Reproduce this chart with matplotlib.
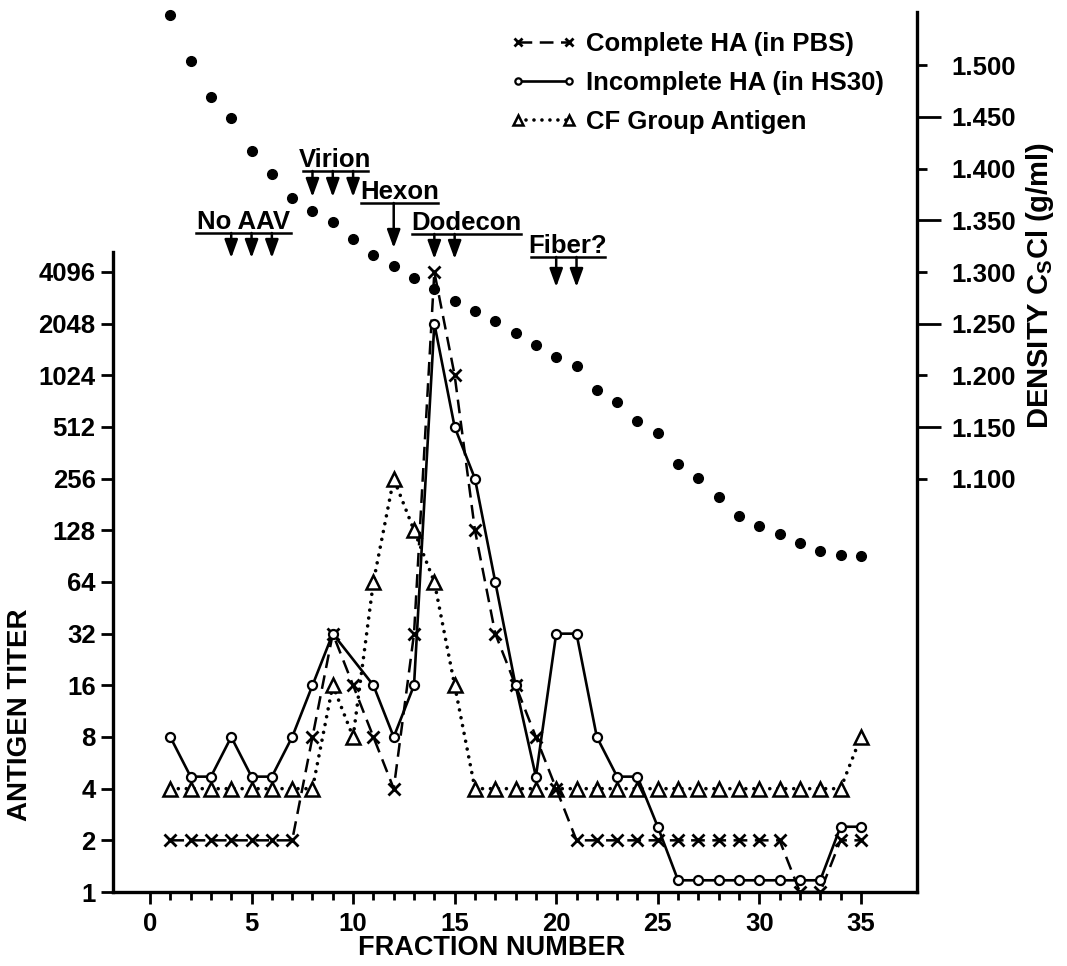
import matplotlib
matplotlib.use('Agg')
import matplotlib.pyplot as plt
import matplotlib.transforms as mtransforms
from matplotlib.ticker import FixedLocator

plt.rcParams['font.family'] = ['Liberation Sans', 'DejaVu Sans']
plt.rcParams['font.weight'] = 'bold'
plt.rcParams['mathtext.fontset'] = 'custom'
plt.rcParams['mathtext.rm'] = 'Liberation Sans:bold'
plt.rcParams['mathtext.bf'] = 'Liberation Sans:bold'

# data
fractions = list(range(1, 36))
complete_ha = [2, 2, 2, 2, 2, 2, 2, 8, 32, 16, 8, 4, 32, 4096, 1024, 128, 32, 16,
               8, 4, 2, 2, 2, 2, 2, 2, 2, 2, 2, 2, 2, 1, 1, 2, 2]
incomplete_frac = [1, 2, 3, 4, 5, 6, 7, 8, 9, 11, 12, 13, 14, 15, 16, 17, 18, 19,
                   20, 21, 22, 23, 24, 25, 26, 27, 28, 29, 30, 31, 32, 33, 34, 35]
incomplete_ha = [8, 4.7, 4.7, 8, 4.7, 4.7, 8, 16, 32, 16, 8, 16, 2048, 512, 256, 64, 16, 4.7,
                 32, 32, 8, 4.7, 4.7, 2.4, 1.17, 1.17, 1.17, 1.17, 1.17, 1.17, 1.17, 1.17, 2.4, 2.4]
cf_antigen = [4, 4, 4, 4, 4, 4, 4, 4, 16, 8, 64, 256, 128, 64, 16, 4, 4, 4,
              4, 4, 4, 4, 4, 4, 4, 4, 4, 4, 4, 4, 4, 4, 4, 4, 8]
density = [1.549, 1.504, 1.469, 1.449, 1.417, 1.395, 1.372, 1.359, 1.348, 1.332,
           1.316, 1.306, 1.294, 1.284, 1.272, 1.262, 1.253, 1.241, 1.229, 1.218,
           1.209, 1.186, 1.174, 1.156, 1.144, 1.114, 1.101, 1.082, 1.064, 1.054,
           1.047, 1.038, 1.030, 1.026, 1.025]
titer_ticks = [1, 2, 4, 8, 16, 32, 64, 128, 256, 512, 1024, 2048, 4096]
density_major = [1.1, 1.2, 1.3, 1.4, 1.5]
density_minor = [1.15, 1.25, 1.35, 1.45]

W, H = 1067, 966
fig = plt.figure(figsize=(W / 100, H / 100), dpi=100)
ax = fig.add_axes([113 / W, (H - 892) / H, (917 - 113) / W, (892 - 12) / H])

ax.plot(fractions, complete_ha, color='k', lw=1.8, ls=(0, (5.5, 3)), marker='x',
        ms=8, mew=2, label='Complete HA (in PBS)', zorder=3)
ax.plot(incomplete_frac, incomplete_ha, color='k', lw=1.9, ls='-', marker='o',
        ms=6.5, mew=1.6, mfc='white', label='Incomplete HA (in HS30)', zorder=4)
ax.plot(fractions, cf_antigen, color='k', lw=2.6, ls=(0, (0.01, 2.2)),
        dash_capstyle='round', marker='^', ms=10, mew=1.8, mfc='white',
        label='CF Group Antigen', zorder=2)

ax.set_yscale('log', base=2)
ax.set_ylim(1, 2 ** ((892 - 12) / 51.67))
ax.set_xlim(-37 / 20.31, 767 / 20.31)
ax.yaxis.set_major_locator(FixedLocator(titer_ticks))
ax.yaxis.set_minor_locator(FixedLocator([]))
ax.set_yticklabels([str(t) for t in titer_ticks])
ax.set_xticks(range(0, 36, 5))
ax.set_xticks(range(0, 36), minor=True)
ax.tick_params(axis='both', which='major', labelsize=18.5, width=2, length=8.5, direction='out')
ax.tick_params(axis='x', which='major', pad=6)
ax.tick_params(axis='x', which='minor', width=2, length=6, direction='out')
ax.tick_params(axis='y', which='major', pad=4)

for s in ['top', 'right']:
    ax.spines[s].set_visible(False)
for s in ['left', 'bottom']:
    ax.spines[s].set_linewidth(2.4)
ax.spines['left'].set_bounds(1, 2 ** ((892 - 252) / 51.67))

ax2 = ax.twinx()
ax2.plot(fractions, density, ls='none', marker='o', ms=7, color='k', clip_on=False)
ax2.set_ylim(1.3 - 620 / 1034, 1.3 + 260 / 1034)
ax2.set_yticks(density_major)
ax2.set_yticklabels(['%.3f' % d for d in density_major])
ax2.set_yticks(density_minor, minor=True)
ax2.set_yticklabels(['%.3f' % d for d in density_minor], minor=True)
ax2.tick_params(axis='y', which='major', labelsize=18.5, width=2, length=7, pad=18)
ax2.tick_params(axis='y', which='minor', labelsize=18.5, width=2, length=17, pad=8)
for s in ['top', 'left', 'bottom']:
    ax2.spines[s].set_visible(False)
ax2.spines['right'].set_linewidth(2.4)

# band annotations with arrows
blend = mtransforms.blended_transform_factory(ax.transData, ax.transAxes)
def fy(py):
    return (892 - py) / 880

bands = [
    ('No AAV', 2.26, 6.94, 233, [4, 5, 6], 258),
    ('Virion', 7.53, 10.73, 171, [8, 9, 10], 197),
    ('Hexon', 10.39, 14.18, 203, [12], 248),
    ('Dodecon', 12.9, 18.27, 234, [14, 15], 259),
    ('Fiber?', 18.76, 22.4, 257, [20, 21], 287),
]
for name, x0, x1, uy, arrows, tip in bands:
    ax.plot([x0, x1], [fy(uy), fy(uy)], color='k', lw=1.8, transform=blend, clip_on=False)
    ax.text((x0 + x1) / 2, fy(uy - 4), name, transform=blend, ha='center', va='baseline',
            fontsize=18.5)
    for f in arrows:
        ax.annotate('', xy=(f, fy(tip)), xytext=(f, fy(uy)), xycoords=blend, textcoords=blend,
                    arrowprops=dict(arrowstyle='-|>,head_length=0.55,head_width=0.2',
                                    mutation_scale=20, lw=1.8, color='k',
                                    shrinkA=0, shrinkB=0))

leg = ax.legend(loc='upper left', bbox_to_anchor=(510 / W, 1 - 32 / H),
                bbox_transform=fig.transFigure, frameon=False, fontsize=18.5,
                numpoints=2, handlelength=2.6, handletextpad=0.35, labelspacing=0.58,
                borderpad=0, borderaxespad=0, markerscale=0.7)

fig.text(20 / W, 1 - 715 / H, 'ANTIGEN TITER', rotation=90, ha='center', va='center',
         fontsize=20)
fig.text(492 / W, 1 - 948 / H, 'FRACTION NUMBER', ha='center', va='center', fontsize=19.5)
fig.text(1040 / W, 1 - 285 / H, r'DENSITY C$_\mathrm{S}$Cl (g/ml)', rotation=90,
         ha='center', va='center', fontsize=21)

fig.savefig('out.png', dpi=100)
